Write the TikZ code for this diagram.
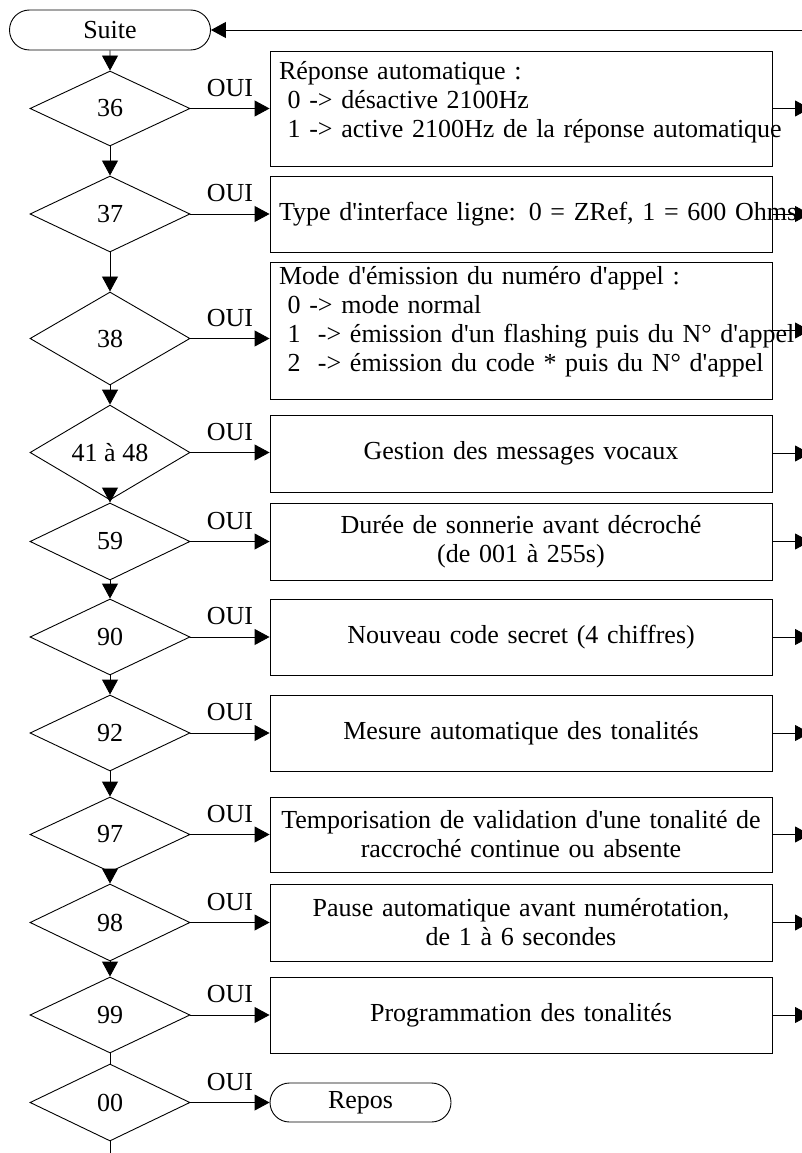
\documentclass[tikz,border=0pt]{standalone}
\usepackage{fontspec}
\setmainfont{Liberation Serif}[Ligatures=TeXOff]
\usetikzlibrary{shapes.geometric,shapes.misc,arrows.meta}

\begin{document}
\begin{tikzpicture}[x=1pt,y=-1pt,line width=0.9pt,
	font=\fontsize{26pt}{29pt}\selectfont,
	decision/.style={draw,diamond,minimum width=160pt,inner sep=0pt},
	bloc/.style={draw,rectangle,minimum width=502pt,text width=484pt,inner xsep=9pt,inner ysep=0pt},
	term/.style={draw,rounded rectangle,inner sep=0pt},
	fleche/.style={-{Triangle[length=15pt,width=16pt]}},
	oui/.style={midway,above=8pt}]
	\useasboundingbox (0,0) rectangle (801,1153);
	\coordinate (bord) at (810,0);
	\coordinate (bas) at (110,1165);
	%
	\node[term,minimum width=201pt,minimum height=40pt] (suite) at (110,30) {Suite};
	\node[term,minimum width=181pt,minimum height=39pt] (repos) at (360.5,1102.5) {Repos};
	%
	\node[decision,minimum height=75pt] (d36) at (110,108.5) {36};
	\node[decision,minimum height=76pt] (d37) at (110,214) {37};
	\node[decision,minimum height=93pt] (d38) at (110,338.5) {38};
	\node[decision,minimum height=75pt] (d41) at (110,452.5) {41 à 48};
	\node[decision,minimum height=77pt] (d59) at (110,541.5) {59};
	\node[decision,minimum height=76pt] (d90) at (110,637) {90};
	\node[decision,minimum height=76pt] (d92) at (110,733) {92};
	\node[decision,minimum height=75pt] (d97) at (110,834.5) {97};
	\node[decision,minimum height=77pt] (d98) at (110,922.5) {98};
	\node[decision,minimum height=76pt] (d99) at (110,1015) {99};
	\node[decision,minimum height=77pt] (d00) at (110,1102.5) {00};
	%
	\node[bloc,align=left,minimum height=115pt] (b36) at (521,108.5)
		{\mbox{Réponse automatique :}\\\mbox{\ 0 -> désactive 2100Hz}\\\mbox{\ 1 -> active 2100Hz de la réponse automatique}\\[-11pt]\mbox{}};
	\node[bloc,align=left,minimum height=76pt] (b37) at (521,214)
		{\mbox{Type d'interface ligne: 0 = ZRef, 1 = 600 Ohms}};
	\node[bloc,align=left,minimum height=137pt] (b38) at (521,330.5)
		{\mbox{Mode d'émission du numéro d'appel :}\\\mbox{\ 0 -> mode normal}\\\mbox{\ 1\ \ -> émission d'un flashing puis du N° d'appel}\\\mbox{\ 2\ \ -> émission du code * puis du N° d'appel}\\[-5pt]\mbox{}};
	\node[bloc,align=center,minimum height=77pt] (b41) at (521,453.5) {Gestion des messages vocaux};
	\node[bloc,align=center,minimum height=77pt] (b59) at (521,541.5) {Durée de sonnerie avant décroché\\(de 001 à 255s)};
	\node[bloc,align=center,minimum height=76pt] (b90) at (521,637) {Nouveau code secret (4 chiffres)};
	\node[bloc,align=center,minimum height=76pt] (b92) at (521,733) {Mesure automatique des tonalités};
	\node[bloc,align=center,minimum height=75pt] (b97) at (521,834.5) {Temporisation de validation d'une tonalité de\\raccroché continue ou absente};
	\node[bloc,align=center,minimum height=77pt] (b98) at (521,922.5) {Pause automatique avant numérotation,\\de 1 à 6 secondes};
	\node[bloc,align=center,minimum height=76pt] (b99) at (521,1015) {Programmation des tonalités};
	%
	\draw[fleche] (suite) -- (d36);
	\draw[fleche] (d36) -- (d37);
	\draw[fleche] (d37) -- (d38);
	\draw[fleche] (d38) -- (d41);
	\draw[fleche] (d41) -- (d59);
	\draw[fleche] (d59) -- (d90);
	\draw[fleche] (d90) -- (d92);
	\draw[fleche] (d92) -- (d97);
	\draw[fleche] (d97) -- (d98);
	\draw[fleche] (d98) -- (d99);
	\draw (d99) -- (d00);
	\draw (d00) -- (bas);
	%
	\draw[fleche] (d36.east) -- (d36.east -| b36.west) node[oui] (o36) {OUI};
	\draw[fleche] (d37.east) -- (d37.east -| b37.west) node[oui] (o37) {OUI};
	\draw[fleche] (d38.east) -- (d38.east -| b38.west) node[oui] (o38) {OUI};
	\draw[fleche] (d41.east) -- (d41.east -| b41.west) node[oui] (o41) {OUI};
	\draw[fleche] (d59.east) -- (d59.east -| b59.west) node[oui] (o59) {OUI};
	\draw[fleche] (d90.east) -- (d90.east -| b90.west) node[oui] (o90) {OUI};
	\draw[fleche] (d92.east) -- (d92.east -| b92.west) node[oui] (o92) {OUI};
	\draw[fleche] (d97.east) -- (d97.east -| b97.west) node[oui] (o97) {OUI};
	\draw[fleche] (d98.east) -- (d98.east -| b98.west) node[oui] (o98) {OUI};
	\draw[fleche] (d99.east) -- (d99.east -| b99.west) node[oui] (o99) {OUI};
	\draw[fleche] (d00.east) -- (repos.west) node[oui] (o00) {OUI};
	%
	\draw[fleche] (b36.east) -- (b36.east -| bord);
	\draw[fleche] (b37.east) -- (b37.east -| bord);
	\draw[fleche] (b38.east) -- (b38.east -| bord);
	\draw[fleche] (b41.east) -- (b41.east -| bord);
	\draw[fleche] (b59.east) -- (b59.east -| bord);
	\draw[fleche] (b90.east) -- (b90.east -| bord);
	\draw[fleche] (b92.east) -- (b92.east -| bord);
	\draw[fleche] (b97.east) -- (b97.east -| bord);
	\draw[fleche] (b98.east) -- (b98.east -| bord);
	\draw[fleche] (b99.east) -- (b99.east -| bord);
	\draw[fleche] (suite.east -| bord) -- (suite.east);
\end{tikzpicture}
\end{document}
